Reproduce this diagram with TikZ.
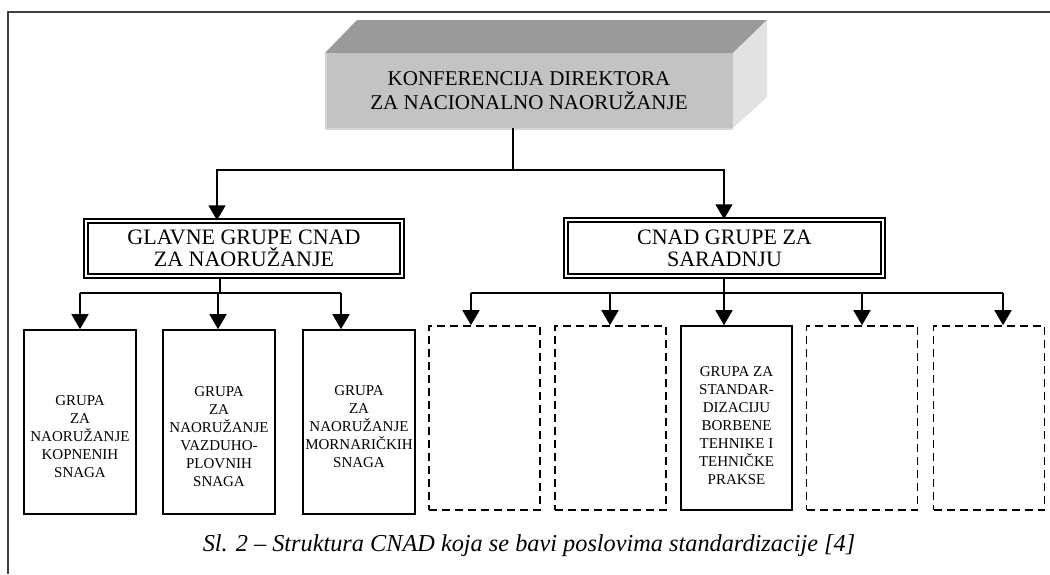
\documentclass[tikz,border=0pt]{standalone}
\usepackage{fontspec}
\setmainfont{Liberation Serif}
\usetikzlibrary{arrows.meta}
\definecolor{topgray}{HTML}{9A9A9A}
\definecolor{frontgray}{HTML}{C3C3C3}
\definecolor{sidegray}{HTML}{E2E2E2}
\definecolor{edgegray}{HTML}{D6D6D6}
\definecolor{framegray}{HTML}{404040}
\begin{document}
\begin{tikzpicture}[x=1pt,y=-1pt,
  conn/.style={line width=1.6pt},
  arr/.style={conn,-{Triangle[length=15pt,width=17pt]}},
  dbox/.style={draw,line width=1.5pt,double,double distance=2.6pt,minimum width=316pt,minimum height=55pt,inner sep=0pt,align=center,font=\fontsize{22}{22}\selectfont},
  sbox/.style={draw,line width=1.6pt,minimum width=112pt,minimum height=184pt,inner sep=0pt},
  dashbox/.style={sbox,dash pattern=on 8pt off 5pt,minimum width=111pt},
  stext/.style={align=center,font=\fontsize{15}{18}\selectfont,inner sep=0pt},
]
\useasboundingbox (0,0) rectangle (1050,574);
% frame
\draw[framegray,line width=1.5pt] (7,12) -- (1050,12);
\draw[framegray,line width=1.5pt] (8,12) -- (8,574);
% 3D box
\fill[topgray] (325,53) -- (357,20) -- (767,20) -- (733,53) -- cycle;
\fill[sidegray] (733,53) -- (767,20) -- (767,97) -- (733,128) -- cycle;
\node[fill=frontgray,minimum width=408pt,minimum height=75pt,inner sep=0pt,align=center,font=\fontsize{21}{24}\selectfont] (top) at (529,90.5) {KONFERENCIJA DIREKTORA\\ZA NACIONALNO NAORUŽANJE};
\draw[edgegray,line width=1.5pt] ([xshift=1pt]top.north west) -- ([xshift=1pt,yshift=-1pt]top.south west) -- ([yshift=-1pt]top.south east);
% second level
\node[dbox] (glavne) at (244,248.5) {GLAVNE GRUPE CNAD\\ZA NAORUŽANJE};
\node[dbox,minimum width=317pt,minimum height=56pt] (cnad) at (724.5,248) {CNAD GRUPE ZA\\SARADNJU};
% connectors top
\coordinate (j0) at (513,170);
\coordinate (aL) at (217,170);
\coordinate (aR) at (724,170);
\draw[conn] (top.south -| j0) -- (j0);
\draw[arr] (j0) -- (aL) -- (aL |- glavne.north);
\draw[arr] (j0) -- (aR) -- (aR |- cnad.north);
% left boxes
\node[sbox] (l1) at (80,422) {};
\node[sbox] (l2) at (219,422) {};
\node[sbox] (l3) at (359,422) {};
\node[stext] (t1) at (80,437) {GRUPA\\ZA\\NAORUŽANJE\\KOPNENIH\\SNAGA};
\node[stext] (t2) at (219,437) {GRUPA\\ZA\\NAORUŽANJE\\VAZDUHO-\\PLOVNIH\\SNAGA};
\node[stext] (t3) at (359,427) {GRUPA\\ZA\\NAORUŽANJE\\MORNARIČKIH\\SNAGA};
% right boxes
\node[dashbox] (r1) at (484.5,418) {};
\node[dashbox] (r2) at (610.5,418) {};
\node[sbox,minimum width=111pt] (r3) at (736.5,418) {};
\node[dashbox] (r4) at (862,418) {};
\node[dashbox] (r5) at (989,418) {};
\node[stext] (t4) at (736.5,426) {GRUPA ZA\\STANDAR-\\DIZACIJU\\BORBENE\\TEHNIKE I\\TEHNIČKE\\PRAKSE};
% left bus
\coordinate (jL) at (220,293);
\coordinate (bL1) at (80,293);
\coordinate (bL2) at (218,293);
\coordinate (bL3) at (341,293);
\draw[conn] (glavne.south -| jL) -- (jL);
\draw[conn] (bL1) -- (bL3);
\draw[arr] (bL1) -- (bL1 |- l1.north);
\draw[arr] (bL2) -- (bL2 |- l2.north);
\draw[arr] (bL3) -- (bL3 |- l3.north);
% right bus
\coordinate (jR) at (724,293);
\coordinate (bR1) at (471,293);
\coordinate (bR2) at (610,293);
\coordinate (bR4) at (862,293);
\coordinate (bR5) at (1003,293);
\draw[conn] (cnad.south -| jR) -- (jR);
\draw[conn] (bR1) -- (bR5);
\draw[arr] (bR1) -- (bR1 |- r1.north);
\draw[arr] (bR2) -- (bR2 |- r2.north);
\draw[arr] (jR) -- (jR |- r3.north);
\draw[arr] (bR4) -- (bR4 |- r4.north);
\draw[arr] (bR5) -- (bR5 |- r5.north);
% caption
\node[font=\fontsize{24.3}{26}\selectfont\itshape,inner sep=0pt,anchor=base] (cap) at (529,551) {Sl. 2 – Struktura CNAD koja se bavi poslovima standardizacije [4]};
\end{tikzpicture}
\end{document}
